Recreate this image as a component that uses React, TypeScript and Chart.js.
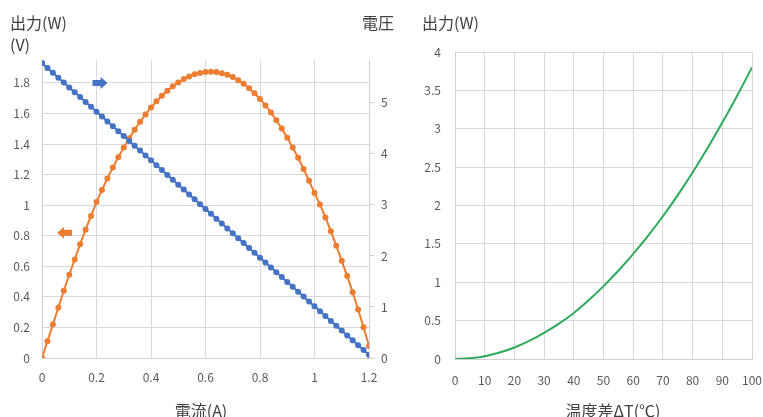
import { useEffect, useRef } from 'react';
import { Chart, registerables } from 'chart.js';

Chart.register(...registerables);

// ---- Left chart data: current vs. power / voltage ----
const CURRENT_A = [
  0, 0.02, 0.04, 0.06, 0.08, 0.1, 0.12, 0.14, 0.16, 0.18, 0.2, 0.22, 0.24, 0.26, 0.28, 0.3,
  0.32, 0.34, 0.36, 0.38, 0.4, 0.42, 0.44, 0.46, 0.48, 0.5, 0.52, 0.54, 0.56, 0.58, 0.6,
  0.62, 0.64, 0.66, 0.68, 0.7, 0.72, 0.74, 0.76, 0.78, 0.8, 0.82, 0.84, 0.86, 0.88, 0.9,
  0.92, 0.94, 0.96, 0.98, 1, 1.02, 1.04, 1.06, 1.08, 1.1, 1.12, 1.14, 1.16, 1.18, 1.2,
];
const POWER_W = [
  0, 0.11, 0.22, 0.33, 0.44, 0.545, 0.645, 0.745, 0.84, 0.93, 1.02,
  1.1, 1.175, 1.246, 1.314, 1.378, 1.438, 1.494, 1.546, 1.594, 1.639,
  1.68, 1.716, 1.749, 1.778, 1.803, 1.825, 1.842, 1.856, 1.865, 1.871, 1.873,
  1.871, 1.864, 1.853, 1.838, 1.818, 1.794, 1.765, 1.732, 1.695, 1.653,
  1.607, 1.556, 1.501, 1.442, 1.378, 1.31, 1.237, 1.16, 1.079,
  1.005, 0.92, 0.83, 0.735, 0.636, 0.536, 0.431, 0.318, 0.201, 0.078,
];
const VOLTAGE_V = [
  5.78, 5.685, 5.589, 5.494, 5.399, 5.303, 5.208, 5.113, 5.017, 4.922, 4.827,
  4.731, 4.636, 4.541, 4.445, 4.35, 4.255, 4.159, 4.064, 3.969, 3.873,
  3.778, 3.683, 3.587, 3.492, 3.397, 3.301, 3.206, 3.111, 3.015, 2.92,
  2.825, 2.729, 2.634, 2.539, 2.443, 2.348, 2.253, 2.157, 2.062, 1.967,
  1.871, 1.776, 1.681, 1.585, 1.49, 1.395, 1.299, 1.204, 1.109, 1.013,
  0.918, 0.823, 0.727, 0.632, 0.537, 0.441, 0.346, 0.251, 0.155, 0.06,
];
const CURRENT_TICKS = [0, 0.2, 0.4, 0.6, 0.8, 1, 1.2];
const POWER_TICKS = [0, 0.2, 0.4, 0.6, 0.8, 1, 1.2, 1.4, 1.6, 1.8];
const VOLTAGE_TICKS = [0, 1, 2, 3, 4, 5];
const POWER_AXIS_MAX = 1.95;
const VOLTAGE_AXIS_MAX = 5.84;
// arrow markers: [current, power-axis value]
const VOLTAGE_ARROW_AT = [0.213, 1.8];
const POWER_ARROW_AT = [0.083, 0.82];

// ---- Right chart data: temperature difference vs. power ----
const TEMP_DIFF_C = [0, 5, 10, 15, 20, 25, 30, 35, 40, 45, 50, 55, 60, 65, 70, 75, 80, 85, 90, 95, 100];
const TEMP_POWER_W = [
  0, 0.01, 0.037, 0.084, 0.15, 0.235, 0.34, 0.46, 0.6, 0.765, 0.95,
  1.15, 1.37, 1.605, 1.86, 2.135, 2.43, 2.745, 3.08, 3.43, 3.8,
];
const TEMP_TICKS = [0, 10, 20, 30, 40, 50, 60, 70, 80, 90, 100];
const TEMP_POWER_TICKS = [0, 0.5, 1, 1.5, 2, 2.5, 3, 3.5, 4];

const FONT = '"Noto Sans CJK JP", "Noto Sans", sans-serif';
const TICK_COLOR = '#595959';
const TITLE_COLOR = '#404040';
const GRID = '#D9D9D9';
const BORDER = '#D0D0D0';
const BLUE = '#4472C4';
const ORANGE = '#ED7D31';
const GREEN = '#2EAA5A';

type Txt = { text: string; x: number; y: number; align: CanvasTextAlign };

function textPlugin(id: string, items: Txt[]) {
  return {
    id,
    afterDraw(chart: any) {
      const ctx = chart.ctx;
      ctx.save();
      ctx.fillStyle = TITLE_COLOR;
      ctx.font = `16px ${FONT}`;
      ctx.textBaseline = 'middle';
      for (const t of items) {
        ctx.textAlign = t.align;
        ctx.fillText(t.text, t.x, t.y);
      }
      ctx.restore();
    },
  };
}

const arrowPlugin = {
  id: 'arrows',
  afterDatasetsDraw(chart: any) {
    const { ctx, scales } = chart;
    const draw = (cx: number, cy: number, dir: number, color: string) => {
      const w = 15;
      const h = 12;
      const bodyH = 6;
      const headW = 7;
      ctx.save();
      ctx.fillStyle = color;
      ctx.beginPath();
      const tail = cx - (dir * w) / 2;
      const tip = cx + (dir * w) / 2;
      const neck = tip - dir * headW;
      ctx.moveTo(tail, cy - bodyH / 2);
      ctx.lineTo(neck, cy - bodyH / 2);
      ctx.lineTo(neck, cy - h / 2);
      ctx.lineTo(tip, cy);
      ctx.lineTo(neck, cy + h / 2);
      ctx.lineTo(neck, cy + bodyH / 2);
      ctx.lineTo(tail, cy + bodyH / 2);
      ctx.closePath();
      ctx.fill();
      ctx.restore();
    };
    draw(scales.x.getPixelForValue(VOLTAGE_ARROW_AT[0]), scales.y.getPixelForValue(VOLTAGE_ARROW_AT[1]), 1, BLUE);
    draw(scales.x.getPixelForValue(POWER_ARROW_AT[0]), scales.y.getPixelForValue(POWER_ARROW_AT[1]), -1, ORANGE);
  },
};

const setTicks = (values: number[]) => (axis: any) => {
  axis.ticks = values.map((v) => ({ value: v }));
};
const fitX = (h: number) => (s: any) => {
  s.height = h;
  s.paddingLeft = 0;
  s.paddingRight = 0;
};
const fitY = (w: number) => (s: any) => {
  s.width = w;
  s.paddingTop = 0;
  s.paddingBottom = 0;
};
const tickFont = { family: FONT, size: 12 };

function LeftChart() {
  const ref = useRef<HTMLCanvasElement>(null);
  useEffect(() => {
    const chart = new Chart(ref.current!, {
      type: 'line',
      data: {
        datasets: [
          {
            label: '電圧',
            data: CURRENT_A.map((x, i) => ({ x, y: VOLTAGE_V[i] })),
            yAxisID: 'y1',
            borderColor: BLUE,
            backgroundColor: BLUE,
            borderWidth: 2,
            pointRadius: 3,
            pointBorderWidth: 0,
            pointBackgroundColor: BLUE,
          },
          {
            label: '出力',
            data: CURRENT_A.map((x, i) => ({ x, y: POWER_W[i] })),
            yAxisID: 'y',
            borderColor: ORANGE,
            backgroundColor: ORANGE,
            borderWidth: 2,
            pointRadius: 3,
            pointBorderWidth: 0,
            pointBackgroundColor: ORANGE,
          },
        ],
      },
      options: {
        responsive: false,
        animation: false,
        events: [],
        layout: { padding: { left: 0, right: 0, top: 60, bottom: 0 } },
        plugins: { legend: { display: false }, tooltip: { enabled: false } },
        scales: {
          x: {
            type: 'linear',
            min: 0,
            max: 1.2,
            afterBuildTicks: setTicks(CURRENT_TICKS),
            afterFit: fitX(59),
            grid: { color: GRID, drawTicks: false },
            border: { display: true, color: BORDER },
            ticks: { color: TICK_COLOR, font: tickFont, padding: 12, maxRotation: 0, callback: (v: any) => String(v) },
          },
          y: {
            type: 'linear',
            position: 'left',
            min: 0,
            max: POWER_AXIS_MAX,
            afterBuildTicks: setTicks(POWER_TICKS),
            afterFit: fitY(42),
            grid: { color: GRID, drawTicks: false },
            border: { display: true, color: BORDER },
            ticks: { color: TICK_COLOR, font: tickFont, padding: 12, callback: (v: any) => String(v) },
          },
          y1: {
            type: 'linear',
            position: 'right',
            min: 0,
            max: VOLTAGE_AXIS_MAX,
            afterBuildTicks: setTicks(VOLTAGE_TICKS),
            afterFit: fitY(31),
            grid: { drawOnChartArea: false, drawTicks: true, tickLength: 5, color: BORDER },
            border: { display: true, color: BORDER },
            ticks: { color: TICK_COLOR, font: tickFont, padding: 7, callback: (v: any) => String(v) },
          },
        },
      },
      plugins: [
        arrowPlugin,
        textPlugin('leftTitles', [
          { text: '出力(W)', x: 10, y: 23, align: 'left' },
          { text: '(V)', x: 10, y: 45, align: 'left' },
          { text: '電圧', x: 362, y: 23, align: 'left' },
          { text: '電流(A)', x: 201, y: 411, align: 'center' },
        ]),
      ],
    } as any);
    return () => chart.destroy();
  }, []);
  return <canvas ref={ref} width={400} height={417} style={{ position: 'absolute', left: 0, top: 0 }} />;
}

function RightChart() {
  const ref = useRef<HTMLCanvasElement>(null);
  useEffect(() => {
    const chart = new Chart(ref.current!, {
      type: 'line',
      data: {
        datasets: [
          {
            label: '出力',
            data: TEMP_DIFF_C.map((x, i) => ({ x, y: TEMP_POWER_W[i] })),
            borderColor: GREEN,
            backgroundColor: GREEN,
            borderWidth: 2,
            pointRadius: 0,
            cubicInterpolationMode: 'monotone',
          },
        ],
      },
      options: {
        responsive: false,
        animation: false,
        events: [],
        layout: { padding: { left: 0, right: 11, top: 52, bottom: 0 } },
        plugins: { legend: { display: false }, tooltip: { enabled: false } },
        scales: {
          x: {
            type: 'linear',
            min: 0,
            max: 100,
            afterBuildTicks: setTicks(TEMP_TICKS),
            afterFit: fitX(58),
            grid: { color: GRID, drawTicks: false },
            border: { display: true, color: BORDER },
            ticks: { color: TICK_COLOR, font: tickFont, padding: 14, maxRotation: 0, callback: (v: any) => String(v) },
          },
          y: {
            type: 'linear',
            min: 0,
            max: 4,
            afterBuildTicks: setTicks(TEMP_POWER_TICKS),
            afterFit: fitY(55),
            grid: { color: GRID, drawTicks: false },
            border: { display: true, color: BORDER },
            ticks: { color: TICK_COLOR, font: tickFont, padding: 14, callback: (v: any) => String(v) },
          },
        },
      },
      plugins: [
        textPlugin('rightTitles', [
          { text: '出力(W)', x: 22, y: 23, align: 'left' },
          { text: '温度差ΔT(℃)', x: 213, y: 411, align: 'center' },
        ]),
      ],
    } as any);
    return () => chart.destroy();
  }, []);
  return <canvas ref={ref} width={363} height={417} style={{ position: 'absolute', left: 400, top: 0 }} />;
}

export default function App() {
  return (
    <div style={{ position: 'fixed', left: 0, top: 0, width: 763, height: 417, background: '#ffffff', overflow: 'hidden' }}>
      <LeftChart />
      <RightChart />
    </div>
  );
}
